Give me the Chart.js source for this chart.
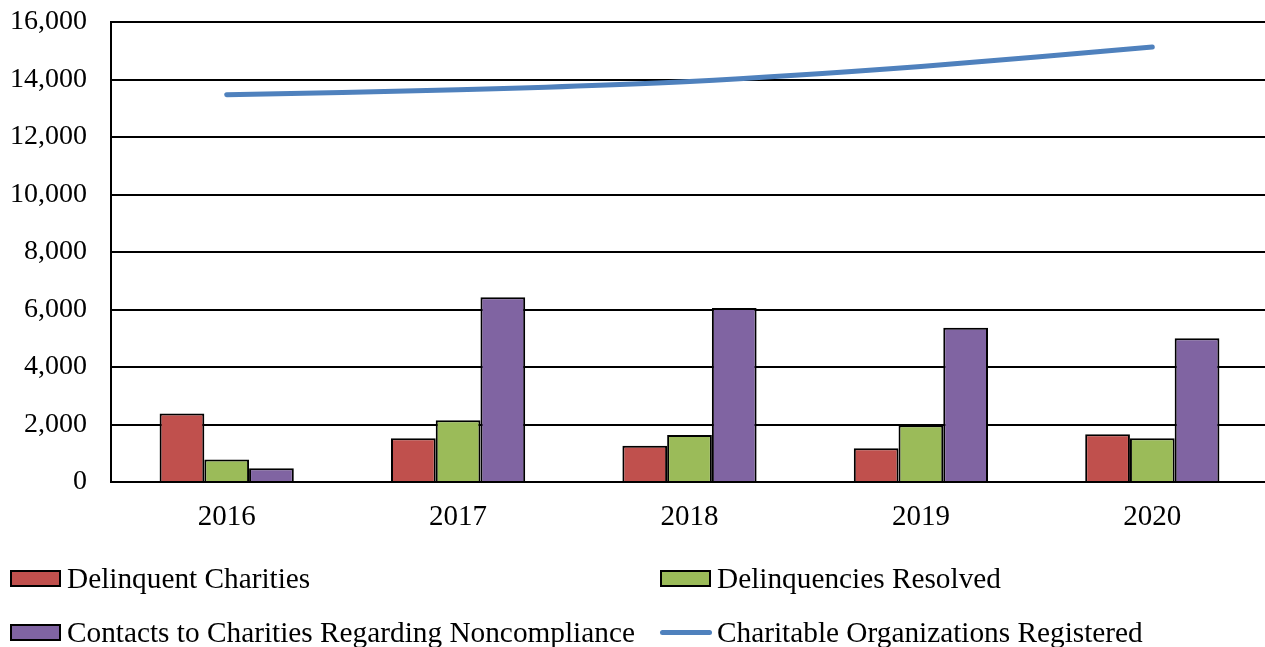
<!DOCTYPE html>
<html>
<head>
<meta charset="utf-8">
<script src="https://cdn.jsdelivr.net/npm/chart.js@4/dist/chart.umd.min.js"></script>
<style>
  html, body { margin: 0; padding: 0; background: #fff; overflow: hidden; }
  #wrap { position: relative; width: 1265px; height: 647px; overflow: hidden; }
  #legend { position: absolute; left: 0; top: 0; width: 1265px; height: 647px; pointer-events: none;
    font-family: "Liberation Serif", "Times New Roman", serif; font-size: 29.3px; color: #000; }
  .item { position: absolute; display: flex; align-items: center; white-space: nowrap; }
  .box { width: 47px; height: 13px; border: 2px solid #000; margin-right: 6px; }
  .ln { width: 52px; height: 5px; border-radius: 3px; margin-right: 5px; }
</style>
</head>
<body>
<div id="wrap">
  <canvas id="c" width="1268" height="647"></canvas>
  <div id="legend"></div>
</div>
<script>
const years = ["2016", "2017", "2018", "2019", "2020"];
const delinquentCharities = [2380, 1520, 1263, 1170, 1660];
const delinquenciesResolved = [785, 2150, 1635, 1970, 1520];
const contactsNoncompliance = [480, 6430, 6055, 5365, 5000];
const organizationsRegistered = [13470, 13640, 13930, 14450, 15130];
const yTicks = [0, 2000, 4000, 6000, 8000, 10000, 12000, 14000, 16000];

const FONT = "'Liberation Serif', 'Times New Roman', serif";
const colors = { red: "#C0504D", green: "#9BBB59", purple: "#8064A2", blue: "#4F81BD" };

const series = [
  { label: "Delinquent Charities", data: delinquentCharities, color: colors.red, type: "bar" },
  { label: "Delinquencies Resolved", data: delinquenciesResolved, color: colors.green, type: "bar" },
  { label: "Contacts to Charities Regarding Noncompliance", data: contactsNoncompliance, color: colors.purple, type: "bar" },
  { label: "Charitable Organizations Registered", data: organizationsRegistered, color: colors.blue, type: "line" }
];

const datasets = series.map(s => s.type === "bar" ? {
  type: "bar", label: s.label, data: s.data, backgroundColor: s.color,
  borderColor: "#000", borderWidth: 2, barPercentage: 1.0, categoryPercentage: 0.58, order: 2
} : {
  type: "line", label: s.label, data: s.data, borderColor: s.color, backgroundColor: s.color,
  borderWidth: 5, pointRadius: 0, tension: 0.25, borderCapStyle: "round", order: 1
});

new Chart(document.getElementById("c"), {
  data: { labels: years, datasets },
  options: {
    responsive: false, animation: false,
    layout: { padding: { top: 22, right: 0, bottom: 105, left: 0 } },
    plugins: { legend: { display: false }, tooltip: { enabled: false } },
    scales: {
      x: {
        grid: { display: false, drawTicks: false },
        border: { display: true, color: "#000", width: 2 },
        ticks: { color: "#000", font: { family: FONT, size: 29 }, padding: 18 },
        afterFit: s => { s.height = 60; s.paddingLeft = 0; s.paddingRight = 0; }
      },
      y: {
        min: 0, max: 16000,
        afterBuildTicks: s => { s.ticks = yTicks.map(v => ({ value: v })); },
        grid: { color: "#000", lineWidth: 2, drawTicks: false },
        border: { display: true, color: "#000", width: 2 },
        ticks: { color: "#000", font: { family: FONT, size: 28 }, padding: 24,
          callback: v => v.toLocaleString("en-US") },
        afterFit: s => { s.width = 111; s.paddingTop = 0; s.paddingBottom = 0; }
      }
    }
  }
});

const legendPos = [
  { x: 10, y: 578 }, { x: 660, y: 578 }, { x: 10, y: 632 }, { x: 660, y: 632 }
];
const legend = document.getElementById("legend");
series.forEach((s, i) => {
  const it = document.createElement("div");
  it.className = "item";
  it.style.left = legendPos[i].x + "px";
  it.style.top = (legendPos[i].y - 18) + "px";
  it.style.height = "36px";
  const sw = document.createElement("span");
  if (s.type === "bar") { sw.className = "box"; sw.style.background = s.color; }
  else { sw.className = "ln"; sw.style.background = s.color; }
  const tx = document.createElement("span");
  tx.textContent = s.label;
  it.appendChild(sw); it.appendChild(tx);
  legend.appendChild(it);
});
</script>
</body>
</html>
